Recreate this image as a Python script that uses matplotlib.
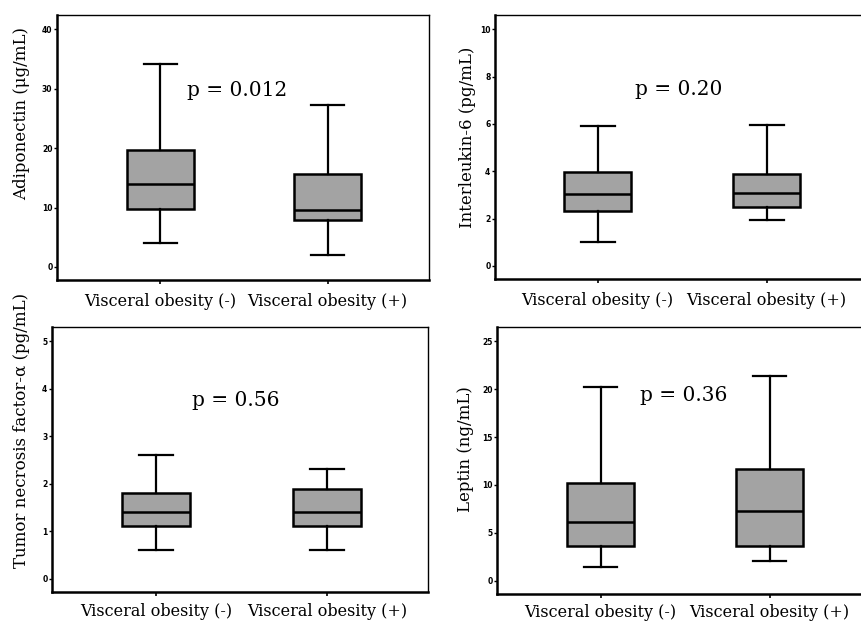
import matplotlib
matplotlib.use("Agg")
import matplotlib.pyplot as plt

groups = ["Visceral obesity (-)", "Visceral obesity (+)"]

# five-number summaries per group: [whislo, q1, med, q3, whishi]
adiponectin = [[4.1, 9.7, 13.9, 19.7, 34.2], [2.0, 7.9, 9.5, 15.7, 27.3]]
interleukin6 = [[1.0, 2.34, 3.04, 3.97, 5.91], [1.94, 2.5, 3.07, 3.9, 5.94]]
tnf_alpha = [[0.61, 1.12, 1.40, 1.80, 2.61], [0.60, 1.11, 1.40, 1.89, 2.32]]
leptin = [[1.4, 3.6, 6.1, 10.2, 20.2], [2.0, 3.6, 7.3, 11.7, 21.4]]

ylabels = ["Adiponectin (\u03bcg/mL)", "Interleukin-6 (pg/mL)",
           "Tumor necrosis factor-\u03b1 (pg/mL)", "Leptin (ng/mL)"]
pvalues = ["p = 0.012", "p = 0.20", "p = 0.56", "p = 0.36"]
yticks = [[0, 10, 20, 30, 40], [0, 2, 4, 6, 8, 10], [0, 1, 2, 3, 4, 5],
          [0, 5, 10, 15, 20, 25]]

data = [adiponectin, interleukin6, tnf_alpha, leptin]

# layout (figure pixels)
W, H = 862, 624
axes_px = [(57, 15, 429, 280), (495, 15, 868, 279),
           (52, 327, 428, 592), (497, 327, 871, 594)]
xlims = [(0.383, 2.605), (0.392, 2.6), (0.394, 2.59), (0.387, 2.6)]
ylims = [(-2.2, 42.4), (-0.55, 10.6), (-0.28, 5.3), (-1.4, 26.5)]
ptext_pos = [(1.46, 29.7), (1.48, 7.44), (1.47, 3.76), (1.49, 19.35)]
ylabel_px = [(21.7, 113), (467.7, 137), (21.7, 430), (466, 449.5)]
xlabel_pad = [6.5, 6.5, 5, 4.5]

serif = ["DejaVu Serif"]
fig = plt.figure(figsize=(W / 100, H / 100), dpi=100)
fig.patch.set_facecolor("white")

for i in range(4):
    x0, y0, x1, y1 = axes_px[i]
    ax = fig.add_axes([x0 / W, 1 - y1 / H, (x1 - x0) / W, (y1 - y0) / H])
    stats = []
    for g, v in zip(groups, data[i]):
        stats.append(dict(label=g, whislo=v[0], q1=v[1], med=v[2], q3=v[3],
                          whishi=v[4], fliers=[]))
    ax.bxp(stats, positions=[1, 2], widths=0.40, patch_artist=True,
           showfliers=False,
           boxprops=dict(facecolor="#a3a3a3", edgecolor="black", linewidth=1.8),
           medianprops=dict(color="black", linewidth=1.8),
           whiskerprops=dict(color="black", linewidth=1.6),
           capprops=dict(color="black", linewidth=1.6))
    ax.set_xlim(*xlims[i])
    ax.set_ylim(*ylims[i])
    ax.set_yticks(yticks[i])
    ax.set_yticklabels([str(t) for t in yticks[i]], fontsize=5.5,
                       fontweight="bold", family=["DejaVu Sans"])
    ax.set_xticks([1, 2])
    ax.set_xticklabels(groups, fontsize=11.5, family=serif)
    ax.tick_params(axis="y", length=2.5, width=1, pad=0.8, direction="out")
    ax.tick_params(axis="x", length=3, width=1.2, pad=xlabel_pad[i],
                   direction="out")
    ax.spines["left"].set_linewidth(1.8)
    ax.spines["bottom"].set_linewidth(1.8)
    ax.spines["top"].set_linewidth(1.0)
    ax.spines["right"].set_linewidth(1.0)
    px, py = ptext_pos[i]
    ax.text(px, py, pvalues[i], fontsize=14.5, family=serif,
            ha="center", va="center")
    lx, ly = ylabel_px[i]
    fig.text(lx / W, 1 - ly / H, ylabels[i], rotation=90, fontsize=12,
             family=serif, ha="center", va="center")

fig.savefig("out.png", dpi=100, facecolor="white")
